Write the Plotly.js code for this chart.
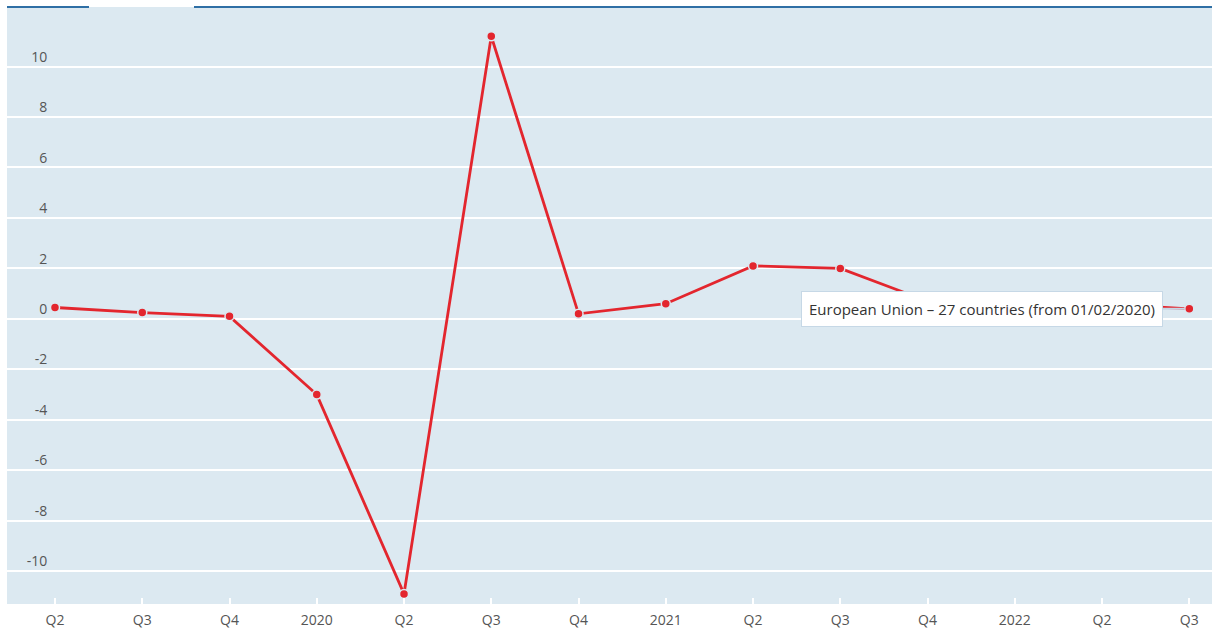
<!DOCTYPE html>
<html>
<head>
<meta charset="utf-8">
<script src="https://cdn.plot.ly/plotly-3.0.1.min.js"></script>
<style>html,body{margin:0;padding:0;background:#fff;}#chart{width:1212px;height:630px;}</style>
</head>
<body>
<div id="chart"></div>
<script>
// Quarterly GDP growth, EU-27 (% change on previous quarter)
const periods = ["2019-Q2","2019-Q3","2019-Q4","2020-Q1","2020-Q2","2020-Q3","2020-Q4","2021-Q1","2021-Q2","2021-Q3","2021-Q4","2022-Q1","2022-Q2","2022-Q3"];
const tickLabels = ["Q2","Q3","Q4","2020","Q2","Q3","Q4","2021","Q2","Q3","Q4","2022","Q2","Q3"];
const growth = [0.45, 0.25, 0.1, -3.0, -10.9, 11.2, 0.2, 0.6, 2.1, 2.0, 0.7, 0.6, 0.6, 0.4];
const seriesName = "European Union – 27 countries (from 01/02/2020)";
const yTicks = [-10,-8,-6,-4,-2,0,2,4,6,8,10];

const trace = {
  type: "scatter",
  mode: "lines+markers",
  x: periods,
  y: growth,
  name: seriesName,
  line: {color: "#e3262e", width: 2.8},
  marker: {color: "#e3262e", size: 9, line: {color: "#dce9f1", width: 1.5}},
  hoverinfo: "skip"
};

const layout = {
  width: 1212, height: 630,
  margin: {l: 7, r: 0, t: 7, b: 26},
  paper_bgcolor: "#ffffff",
  plot_bgcolor: "#dce9f1",
  showlegend: false,
  font: {family: "Open Sans, sans-serif", color: "#555555", size: 14},
  xaxis: {
    type: "category",
    categoryorder: "array",
    categoryarray: periods,
    tickvals: periods,
    ticktext: tickLabels,
    range: [-0.55, 13.26],
    showgrid: false,
    zeroline: false,
    showline: false,
    ticks: "inside",
    ticklen: 6,
    tickwidth: 2,
    tickcolor: "#ffffff",
    ticklabelstandoff: 6,
    tickfont: {size: 14, color: "#555555"},
    fixedrange: true
  },
  yaxis: {
    range: [-11.3, 12.36],
    tickvals: yTicks,
    ticktext: yTicks.map(String),
    anchor: "free",
    position: 0.0335,
    side: "left",
    ticklabelposition: "outside top",
    ticks: "",
    showline: false,
    showgrid: true,
    gridcolor: "#ffffff",
    gridwidth: 2,
    zeroline: true,
    zerolinecolor: "#ffffff",
    zerolinewidth: 2,
    tickfont: {size: 14, color: "#555555"},
    fixedrange: true
  },
  shapes: [
    {type: "line", xref: "paper", yref: "paper", x0: 0, x1: (89-7)/1205, y0: 1, y1: 1,
     line: {color: "#2f6fa5", width: 2}},
    {type: "line", xref: "paper", yref: "paper", x0: (194-7)/1205, x1: 1, y0: 1, y1: 1,
     line: {color: "#2f6fa5", width: 2}}
  ],
  annotations: [
    {
      x: periods[periods.length-1], y: growth[growth.length-1],
      xref: "x", yref: "y",
      text: seriesName,
      showarrow: true,
      arrowhead: 0,
      arrowwidth: 2,
      arrowcolor: "#c6d8e6",
      ax: -207, ay: 0,
      standoff: 5,
      bgcolor: "#ffffff",
      bordercolor: "#c6d8e6",
      borderwidth: 1,
      borderpad: 7,
      font: {size: 15, color: "#333333", family: "Open Sans, sans-serif"}
    }
  ]
};

Plotly.newPlot("chart", [trace], layout, {displayModeBar: false, staticPlot: true});
</script>
</body>
</html>
